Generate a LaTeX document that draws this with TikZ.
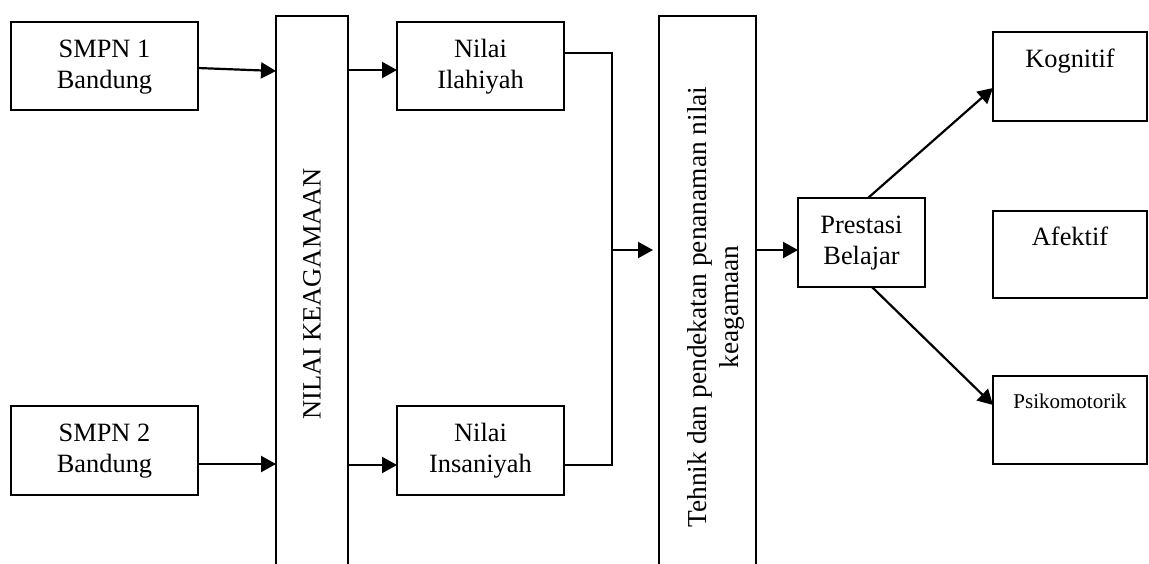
\documentclass[tikz,border=0pt]{standalone}
\usepackage{fontspec}
\setmainfont{Liberation Serif}
\usetikzlibrary{arrows.meta}
\tikzset{
 box/.style={draw,line width=0.9pt,inner sep=0pt,outer sep=0pt},
 lbl/.style={font=\fontsize{13.2}{15.8}\selectfont, align=center, inner sep=0pt, anchor=base},
 smalllbl/.style={font=\fontsize{10.5}{12.6}\selectfont, inner sep=0pt, anchor=base},
 arr/.style={line width=1.1pt, -{Triangle[length=7.5pt,width=8pt]}},
 ln/.style={line width=1.1pt}
}
\begin{document}
\begin{tikzpicture}[x=0.5pt,y=-0.5pt]
\useasboundingbox (0,0) rectangle (1149,563);
\clip (0,0) rectangle (1149,563);

% boxes
\node[box,minimum width=93.5pt,minimum height=44pt] (smp1) at (104.5,66) {};
\node[box,minimum width=93.5pt,minimum height=44.5pt] (smp2) at (104.5,450.5) {};
\node[box,minimum width=36pt,minimum height=278pt] (nk) at (312,294) {};
\node[box,minimum width=83.5pt,minimum height=44pt] (ila) at (480.5,66) {};
\node[box,minimum width=83.5pt,minimum height=44.5pt] (ins) at (480.5,450.5) {};
\node[box,minimum width=48.5pt,minimum height=291pt] (tk) at (707.5,307) {};
\node[box,minimum width=63.5pt,minimum height=44.5pt] (pb) at (861.5,242.5) {};
\node[box,minimum width=77pt,minimum height=44.5pt] (kog) at (1070,76.5) {};
\node[box,minimum width=77pt,minimum height=43.5pt] (afe) at (1070,254.5) {};
\node[box,minimum width=77pt,minimum height=44pt] (psi) at (1070,420) {};

% texts (base anchor of a two-line node is the last line's baseline)
\node[lbl] (smp1t) at ([yshift=-33.3pt]smp1.north) {SMPN 1\\Bandung};
\node[lbl] (smp2t) at ([yshift=-33.3pt]smp2.north) {SMPN 2\\Bandung};
\node[lbl] (ilat) at ([yshift=-33.3pt]ila.north) {Nilai\\Ilahiyah};
\node[lbl] (inst) at ([yshift=-33.3pt]ins.north) {Nilai\\Insaniyah};
\node[lbl] (pbt) at ([yshift=-33.3pt]pb.north) {Prestasi\\Belajar};
\node[lbl] (kogt) at ([yshift=-17.5pt]kog.north) {Kognitif};
\node[lbl] (afet) at ([yshift=-17pt]afe.north) {Afektif};
\node[smalllbl] (psit) at ([yshift=-16pt]psi.north) {Psikomotorik};
\node[lbl,rotate=90,anchor=center] (nkt) at (312,294) {NILAI KEAGAMAAN};
\node[lbl,font=\fontsize{13.7}{15.6}\selectfont,rotate=90,anchor=center] (tkt) at (716,307) {Tehnik dan pendekatan penanaman nilai\\keagamaan};

% connectors
\coordinate (j) at (612,250);
\draw[arr] ([yshift=-1pt]smp1.east) -- ([yshift=-2.5pt]smp1.east -| nk.west);
\draw[arr] ([yshift=-2pt]ila.west -| nk.east) -- ([yshift=-2pt]ila.west);
\draw[arr] ([yshift=-6.75pt]smp2.east) -- ([yshift=-6.75pt]smp2.east -| nk.west);
\draw[arr] ([yshift=-7.25pt]ins.west -| nk.east) -- ([yshift=-7.25pt]ins.west);
\draw[ln] ([yshift=6.5pt]ila.east) -| (j) |- ([yshift=-7.25pt]ins.east);
\draw[arr] (j) -- ([xshift=-3pt]tk.west |- j);
\draw[arr] (tk.east |- j) -- (pb.west |- j);
\draw[arr] ([xshift=3.25pt]pb.north) -- ([yshift=-5.75pt]kog.west);
\draw[arr] ([xshift=5.25pt]pb.south) -- ([yshift=7.5pt]psi.west);
\end{tikzpicture}
\end{document}
